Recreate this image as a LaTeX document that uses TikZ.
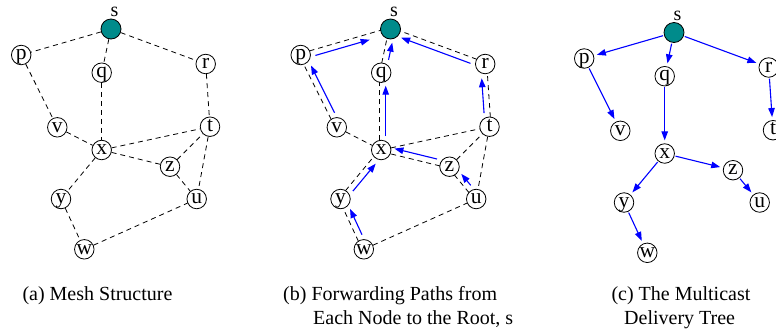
\documentclass[tikz,border=0pt]{standalone}
\usepackage{fontspec}
\setmainfont{Liberation Serif}
\usetikzlibrary{arrows.meta,calc}
\definecolor{rootcol}{RGB}{0,139,139}
\newcommand\lblfont{\fontsize{20}{24}\selectfont}
\newcommand\vtxfont{\fontsize{21.5}{24}\selectfont}
\newcommand\placenodes[3]{%
  \begin{scope}[shift={(#2,#3)}]
    \node[rootnode] (#1s) at (111,29) {};
    \node[vtx] (#1p) at (21.2,55) {p};
    \node[vtx] (#1q) at (101.7,72.7) {q};
    \node[vtx] (#1r) at (205.7,64) {r};
    \node[vtx] (#1v) at (57.3,127.3) {v};
    \node[vtx] (#1t) at (210,126.7) {t};
    \node[vtx] (#1x) at (101.7,150) {x};
    \node[vtx] (#1z) at (170,166.7) {z};
    \node[vtx] (#1y) at (61,199) {y};
    \node[vtx] (#1u) at (196.7,199) {u};
    \node[vtx] (#1w) at (84.3,249.3) {w};
  \end{scope}
  \node[slabel] (#1sl) at ($(#1s)+(3.5,-12.5)$) {s};
}
% child, parent, blue side angle at child, opposite angle, tip shortening
\newcommand\treeedge[5]{%
  \draw[meshline, shorten <=9.6pt, shorten >=9.6pt]
    ($(#1)!1.5pt!#4:(#2)$) -- ($(#2)!1.5pt!#3:(#1)$);
  \draw[fwdarrow, shorten <=14pt, shorten >=#5]
    ($(#1)!4.5pt!#3:(#2)$) -- ($(#2)!4.5pt!#4:(#1)$);
}
\begin{document}
\begin{tikzpicture}[x=1pt,y=-1pt,
  vtx/.style={circle, draw, line width=0.8pt, minimum size=19.5pt, inner sep=0pt,
    font=\vtxfont, text height=9.5pt, text depth=0pt},
  rootnode/.style={circle, draw, line width=0.8pt, fill=rootcol, minimum size=20pt, inner sep=0pt},
  slabel/.style={anchor=base, inner sep=0pt, font=\lblfont, text height=9pt, text depth=0pt},
  captext/.style={anchor=base west, inner sep=0pt, font=\lblfont},
  meshline/.style={line width=0.8pt, dash pattern=on 5pt off 4pt},
  fwdarrow/.style={draw=blue, line width=1.1pt, -{Triangle[length=9pt,width=6.5pt,fill=blue]}}
]
\useasboundingbox (0,0) rectangle (776,330);

% ---------- (a) mesh ----------
\placenodes{a}{0}{0}
\foreach \m/\n in {s/p, s/q, s/r, p/v, q/x, r/t, v/x, x/t, x/z, x/y, z/t, z/u, t/u, y/w, w/u}
  \draw[meshline] (a\m) -- (a\n);

% ---------- (b) forwarding paths ----------
\placenodes{b}{279.5}{0}
\foreach \m/\n in {v/x, x/t, z/t, t/u, w/u}
  \draw[meshline] (b\m) -- (b\n);
\treeedge{bp}{bs}{-90}{90}{23pt}
\treeedge{bv}{bp}{-90}{90}{14pt}
\treeedge{bq}{bs}{-90}{90}{13pt}
\treeedge{bx}{bq}{-90}{90}{13pt}
\treeedge{br}{bs}{90}{-90}{13pt}
\treeedge{bt}{br}{90}{-90}{14pt}
\treeedge{bz}{bx}{-90}{90}{12.5pt}
\treeedge{bu}{bz}{-90}{90}{13pt}
\treeedge{by}{bx}{-90}{90}{14pt}
\treeedge{bw}{by}{-90}{90}{13pt}

% ---------- (c) delivery tree ----------
\placenodes{c}{563}{3.5}
\foreach \m/\n in {s/p, s/q, s/r, p/v, q/x, r/t, x/z, x/y, z/u, y/w}
  \draw[fwdarrow, shorten <=1pt, shorten >=3pt] (c\m) -- (c\n);

% ---------- captions ----------
\node[captext] (capa) at (22.3,300) {(a) Mesh Structure};
\node[captext] (capb1) at (283,300) {(b) Forwarding Paths from};
\node[captext] (capb2) at (313,324) {Each Node to the Root, s};
\node[captext] (capc1) at (611.3,300) {(c) The Multicast};
\node[captext] (capc2) at (624,324) {Delivery Tree};
\end{tikzpicture}
\end{document}
